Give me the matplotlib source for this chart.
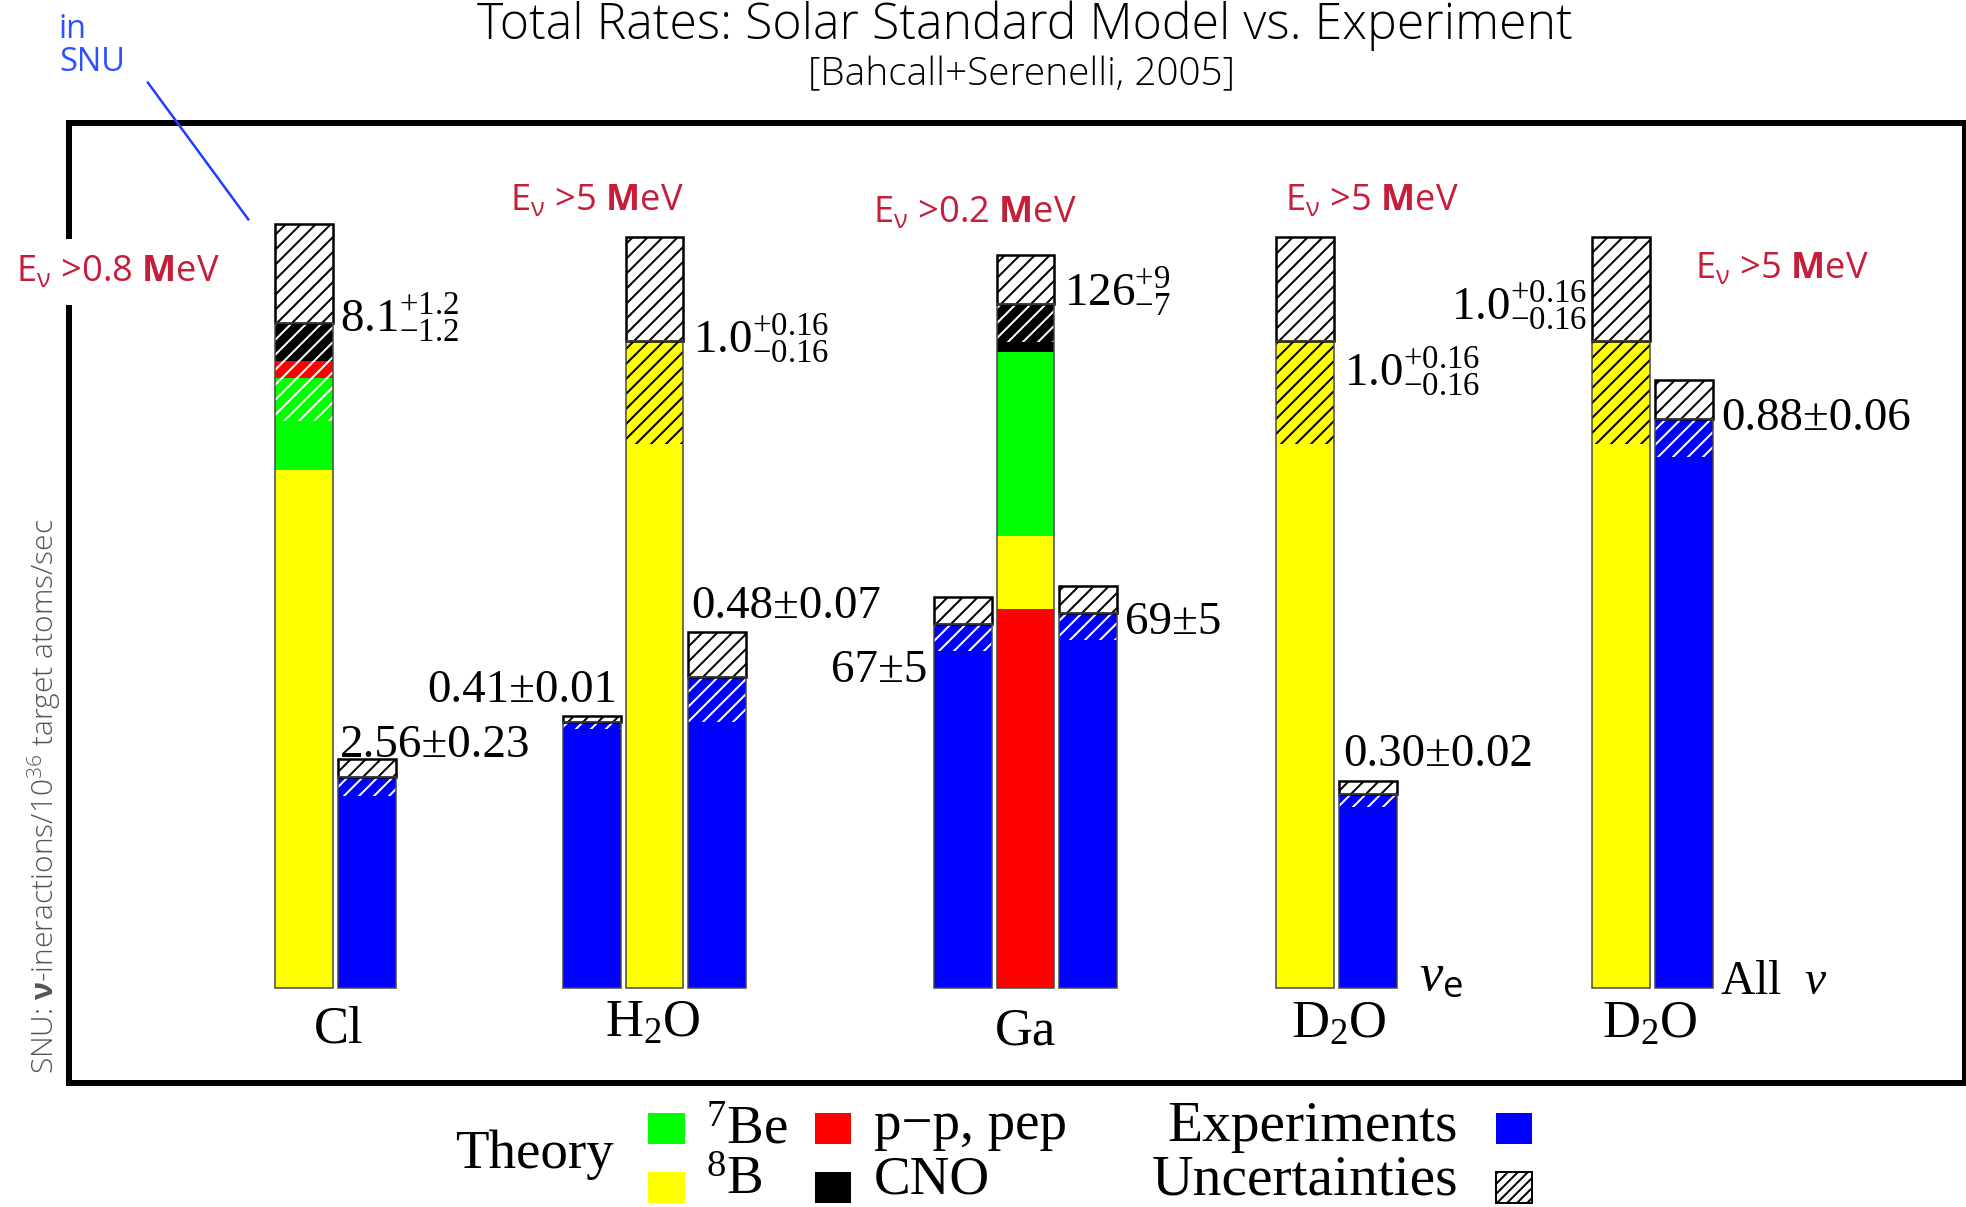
import matplotlib.pyplot as plt
from matplotlib.patches import Rectangle

plt.rcParams['hatch.linewidth'] = 0.8
plt.rcParams['mathtext.fontset'] = 'custom'
plt.rcParams['mathtext.rm'] = 'Liberation Serif'
plt.rcParams['mathtext.it'] = 'Liberation Serif:italic'
plt.rcParams['mathtext.bf'] = 'Open Sans:bold'
plt.rcParams['mathtext.sf'] = 'Open Sans'
plt.rcParams['mathtext.default'] = 'regular'

# --- data (SSM BS05 vs experiments) ---
groups = ['Cl', 'H$_2$O', 'Ga', 'D$_2$O', 'D$_2$O']
thresholds = ['0.8', '5', '0.2', '5', '5']
b8 = [6.3, 1.0, 13.5, 1.0, 1.0]
be7 = [1.13, 0, 33.8, 0, 0]
pp_pep = [0.2, 0, 69.8, 0, 0]
cno = [0.47, 0, 8.9, 0, 0]
ssm_up = [1.2, 0.16, 9, 0.16, 0.16]
ssm_down = [1.2, 0.16, 7, 0.16, 0.16]
ssm_labels = [r'$8.1^{+1.2}_{-1.2}$', r'$1.0^{+0.16}_{-0.16}$', r'$126^{+9}_{-7}$',
              r'$1.0^{+0.16}_{-0.16}$', r'$1.0^{+0.16}_{-0.16}$']

exp_group = [0, 1, 1, 2, 2, 3, 4]
exp_side = [1, -1, 1, -1, 1, 1, 1]
exp_rate = [2.56, 0.41, 0.48, 67, 69, 0.30, 0.88]
exp_err = [0.23, 0.01, 0.07, 5, 5, 0.02, 0.06]
exp_labels = ['2.56±0.23', '0.41±0.01', '0.48±0.07', '67±5', '69±5', '0.30±0.02', '0.88±0.06']

# --- layout (units: pixels of a 1568x963 canvas, y measured from top) ---
BASE = 788
scale = [65.5, 516, 4.33, 516, 516]   # px per unit, one per group
centers = [242.5, 522, 818, 1041, 1293]
W = 46
PITCH = 50
HATCH = '////'
stack_order = [['b8', 'be7', 'pp', 'cno'], ['b8'], ['pp', 'b8', 'be7', 'cno'], ['b8'], ['b8']]
comps = {'b8': (b8, '#ffff00'), 'be7': (be7, '#00ff00'),
         'pp': (pp_pep, '#ff0000'), 'cno': (cno, '#000000')}

ssm_label_pos = [(271, 253, 'left'), (553, 270, 'left'), (849, 232, 'left'),
                 (1072, 296, 'left'), (1266, 243, 'right')]
exp_label_pos = [(271, 595, 'left'), (492, 551, 'right'), (551, 484, 'left'),
                 (740, 535, 'right'), (897, 497, 'left'), (1071, 602, 'left'),
                 (1373, 334, 'left')]
thr_pos = [(13, 217), (407, 160), (696, 170), (1025, 160), (1352, 215)]
group_pos = [(270, 832), (521, 827), (818, 833), (1068, 828), (1316, 828)]

SERIF = 'Liberation Serif'
SANS = 'Open Sans'
RED = '#c41e3a'

fig = plt.figure(figsize=(1966 / 180, 1207 / 180), dpi=180)
ax = fig.add_axes([0, 0, 1, 1])
ax.set_xlim(0, 1568)
ax.set_ylim(BASE - 963, BASE)
ax.axis('off')


def txt(x, y, s, **kw):
    return ax.text(x, BASE - y, s, **kw)


def err_box(x, top, down, up, hatch_col):
    # hatch over the coloured part, then the white box above
    ax.bar(x, down, W, bottom=top - down, color='none', edgecolor=hatch_col,
           hatch=HATCH, linewidth=0, zorder=3)
    ax.bar(x, up, W, bottom=top, color='white', edgecolor='black',
           hatch=HATCH, linewidth=1.0, zorder=3)


# theory bars
for i in range(len(groups)):
    x = centers[i]
    s = scale[i]
    bottom = 0
    top_col = None
    for key in stack_order[i]:
        vals, col = comps[key]
        h = vals[i] * s
        ax.bar(x, h, W, bottom=bottom, color=col, linewidth=0, zorder=2)
        bottom += h
        top_col = col
    hc = 'black' if top_col == '#ffff00' else 'white'
    err_box(x, bottom, ssm_down[i] * s, ssm_up[i] * s, hc)
    ax.bar(x, bottom, W, color='none', edgecolor='#444444', linewidth=0.6, zorder=4)

# experiment bars
for j in range(len(exp_rate)):
    g = exp_group[j]
    x = centers[g] + exp_side[j] * PITCH
    h = exp_rate[j] * scale[g]
    e = exp_err[j] * scale[g]
    ax.bar(x, h, W, color='#0000ff', linewidth=0, zorder=2)
    err_box(x, h, e, e, 'white')
    ax.bar(x, h, W, color='none', edgecolor='#444444', linewidth=0.6, zorder=4)

# value labels
for (x, y, ha), s in zip(ssm_label_pos, ssm_labels):
    txt(x, y, s, ha=ha, va='center', family=SERIF, fontsize=18.8)
for (x, y, ha), s in zip(exp_label_pos, exp_labels):
    txt(x, y, s, ha=ha, va='center', family=SERIF, fontsize=18.8)

# energy thresholds
for k, ((x, y), thr) in enumerate(zip(thr_pos, thresholds)):
    bb = dict(facecolor='white', edgecolor='none', pad=6) if k == 0 else None
    txt(x, y, r'E$_{\nu}$ >' + thr + r' $\mathbf{M}$eV', ha='left', va='center',
        family=SANS, fontsize=14.5, color=RED, bbox=bb, zorder=6)

# target names
for (x, y), name in zip(group_pos, groups):
    txt(x, y, name, ha='center', va='baseline', family=SERIF, fontsize=21)
txt(1132, 790, r'$\mathit{\nu}_{\mathsf{e}}$', ha='left', va='baseline',
    family=SERIF, fontsize=21)
txt(1372, 793, r'All  $\mathit{\nu}$', ha='left', va='baseline',
    family=SERIF, fontsize=19)

# frame
ax.add_patch(Rectangle((55, BASE - 864), 1567 - 55, 864 - 98, fill=False,
                       edgecolor='black', linewidth=2.4, zorder=1, clip_on=False))

# titles
txt(817, 31, 'Total Rates: Solar Standard Model vs. Experiment', ha='center',
    va='baseline', family=SANS, fontweight='light', fontsize=20)
txt(815, 68, '[Bahcall+Serenelli, 2005]', ha='center', va='baseline',
    family=SANS, fontweight='light', fontsize=15.5)

# unit note
txt(47, 30, 'in', ha='left', va='baseline', family=SANS, fontsize=13, color='#3050ff')
txt(47, 57, 'SNU', ha='left', va='baseline', family=SANS, fontsize=13, color='#3050ff')
ax.plot([118, 198], [BASE - 66, BASE - 175], color='#1f3fff', linewidth=1.0)

txt(35, 635, r'SNU: $\mathbf{\nu}$-ineractions/10$^{36}$ target atoms/sec',
    rotation=90, ha='center', va='center', family=SANS, fontweight='light',
    fontsize=12, color='#555555')

# legend
sq_w, sq_h = 29, 25
LEG = 22
txt(363, 921, 'Theory', ha='left', va='center', family=SERIF, fontsize=LEG)
legend_cells = [(517, 888, '#00ff00', r'${}^{7}$Be', 563, 902),
                (517, 935, '#ffff00', r'${}^{8}$B', 563, 942),
                (650, 888, '#ff0000', 'p−p, pep', 697, 898),
                (650, 935, '#000000', 'CNO', 697, 942)]
for x0, y0, col, lab, tx, ty in legend_cells:
    ax.add_patch(Rectangle((x0, BASE - y0 - sq_h), sq_w, sq_h, facecolor=col,
                           edgecolor='none', clip_on=False))
    txt(tx, ty, lab, ha='left', va='center', family=SERIF, fontsize=LEG)

ax.add_patch(Rectangle((1193, BASE - 888 - sq_h), sq_w, sq_h, facecolor='#0000ff',
                       edgecolor='none', clip_on=False))
ax.add_patch(Rectangle((1193, BASE - 935 - sq_h), sq_w, sq_h, facecolor='white',
                       edgecolor='black', hatch='//////', linewidth=0.8, clip_on=False))
txt(1163, 899, 'Experiments', ha='right', va='center', family=SERIF, fontsize=LEG + 1)
txt(1163, 942, 'Uncertainties', ha='right', va='center', family=SERIF, fontsize=LEG + 1)

fig.savefig('out.png', dpi=180)
